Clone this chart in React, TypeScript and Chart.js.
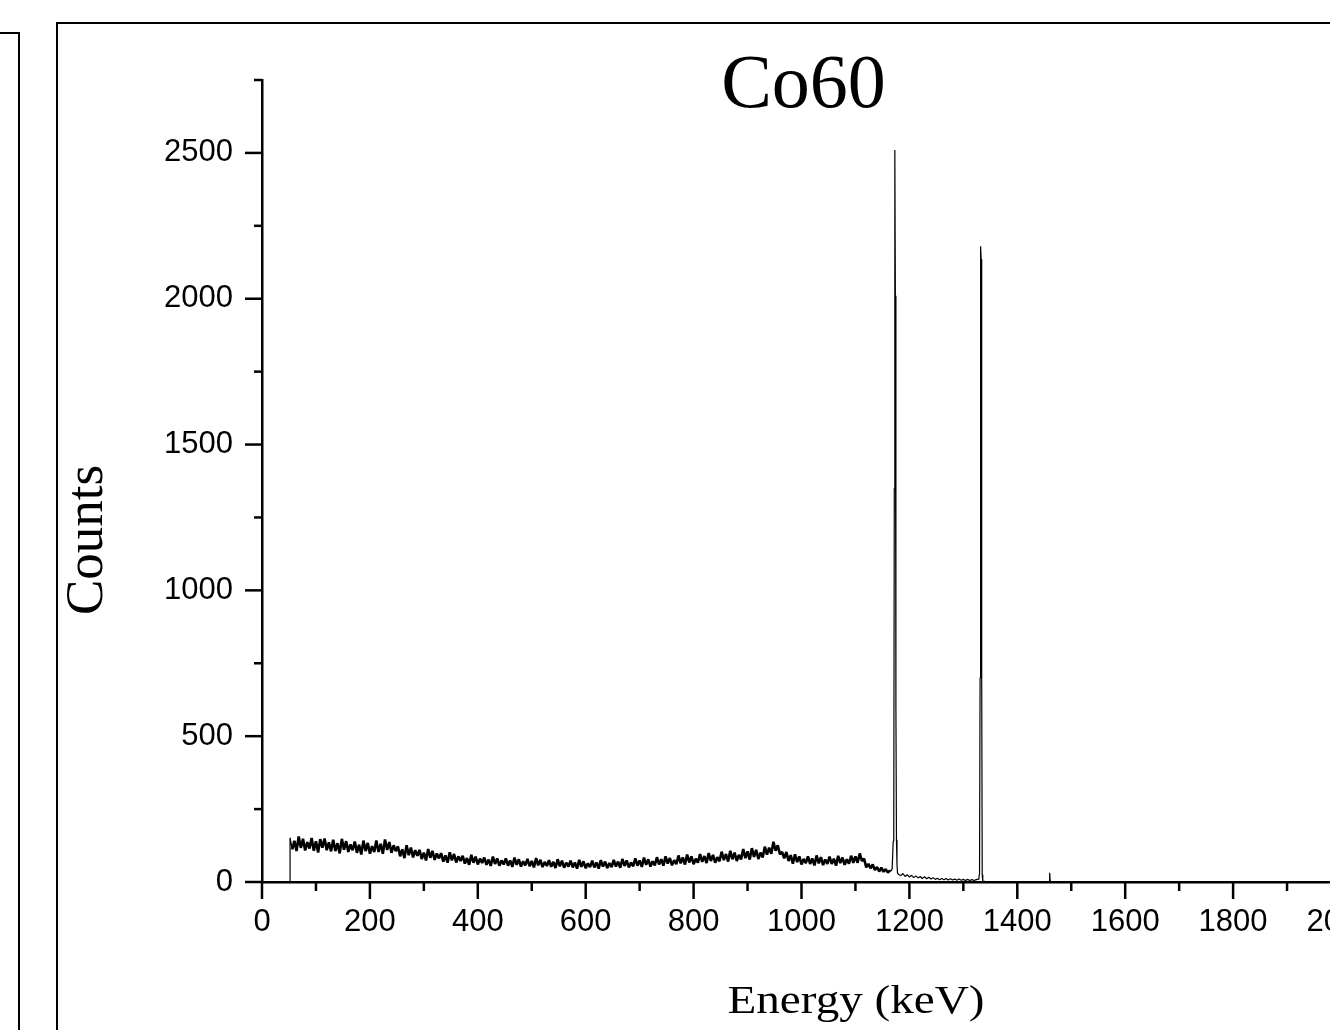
import React, { useEffect, useRef } from "react";
import { Chart, registerables } from "chart.js";

Chart.register(...registerables);

const TITLE = "Co60";
const X_LABEL = "Energy (keV)";
const Y_LABEL = "Counts";

const X_TICKS = [0, 200, 400, 600, 800, 1000, 1200, 1400, 1600, 1800, 2000];
const X_MINOR = [100, 300, 500, 700, 900, 1100, 1300, 1500, 1700, 1900];
const Y_TICKS = [0, 500, 1000, 1500, 2000, 2500];
const Y_MINOR = [250, 750, 1250, 1750, 2250, 2750];

// rising edge at detector threshold
const leadEnergy = [52];
const leadCounts = [0];

// continuum channels (4 keV bins starting at 52 keV)
const CONT_START_KEV = 52;
const CONT_STEP_KEV = 4;
const continuumCounts = [
  152, 112, 141, 106, 156, 117, 148, 108, 137, 115,
  151, 107, 140, 101, 147, 118, 149, 109, 136, 105,
  145, 106, 133, 98, 148, 111, 140, 103, 129, 109,
  139, 100, 128, 94, 142, 106, 134, 97, 123, 103,
  142, 103, 131, 97, 146, 110, 137, 100, 126, 106,
  122, 88, 112, 82, 126, 92, 118, 84, 109, 90,
  110, 79, 101, 74, 113, 83, 107, 76, 98, 81,
  99, 70, 91, 66, 102, 74, 96, 67, 88, 72,
  90, 63, 82, 59, 93, 66, 87, 60, 80, 65,
  84, 59, 77, 55, 87, 62, 81, 56, 74, 60,
  81, 56, 74, 52, 84, 59, 78, 53, 71, 57,
  79, 54, 72, 50, 82, 57, 76, 51, 69, 55,
  75, 52, 69, 48, 78, 54, 73, 49, 66, 53,
  73, 50, 67, 46, 76, 52, 71, 47, 64, 51,
  73, 50, 67, 46, 75, 53, 70, 48, 65, 51,
  76, 53, 70, 49, 79, 55, 74, 50, 67, 54,
  81, 56, 74, 52, 84, 59, 78, 53, 71, 57,
  85, 60, 78, 56, 88, 63, 82, 57, 75, 61,
  91, 64, 84, 60, 94, 67, 88, 61, 80, 66,
  96, 69, 89, 65, 99, 72, 93, 66, 85, 71,
  104, 75, 96, 70, 107, 78, 101, 72, 93, 77,
  113, 82, 105, 77, 116, 86, 110, 79, 101, 84,
  121, 94, 118, 97, 138, 107, 126, 95, 103, 81,
  103, 72, 92, 63, 95, 68, 88, 60, 79, 65,
  88, 62, 81, 57, 91, 64, 85, 58, 77, 62,
  87, 62, 80, 56, 90, 65, 84, 59, 78, 63,
  90, 66, 88, 66, 98, 72, 80, 50, 62, 47,
  60, 41, 51, 36, 49, 35, 44, 32, 40,
];

// 1173 keV photopeak
const peak1Energy = [1166, 1168, 1170, 1171, 1172, 1173, 1174, 1175, 1176, 1177, 1178, 1180];
const peak1Counts = [38, 45, 140, 150, 1350, 2510, 2010, 600, 145, 60, 30, 26];

// region between the two photopeaks (4 keV bins from 1184 keV)
const TAIL_START_KEV = 1184;
const TAIL_STEP_KEV = 4;
const tailCounts = [
  22, 29, 19, 25, 17, 23, 15, 21, 14, 19,
  12, 18, 11, 16, 10, 15, 9, 13, 8, 12,
  8, 12, 7, 11, 7, 10, 6, 10, 6, 9,
  5, 9, 5, 8, 5, 8, 10,
];

// 1332 keV photopeak
const peak2Energy = [1329, 1330, 1331, 1332, 1333, 1334, 1335, 1336];
const peak2Counts = [20, 28, 700, 2180, 2135, 710, 25, 3];

// above 1336 keV (incl. small 1460 keV line)
const highEnergy = [1340, 1400, 1456, 1459, 1460, 1461, 1464, 1600, 2000];
const highCounts = [2, 1, 0, 2, 32, 3, 0, 0, 0];

function buildPoints() {
  const pts: { x: number; y: number }[] = [];
  leadEnergy.forEach((e, i) => pts.push({ x: e, y: leadCounts[i] }));
  continuumCounts.forEach((c, i) => pts.push({ x: CONT_START_KEV + i * CONT_STEP_KEV, y: c }));
  peak1Energy.forEach((e, i) => pts.push({ x: e, y: peak1Counts[i] }));
  tailCounts.forEach((c, i) => pts.push({ x: TAIL_START_KEV + i * TAIL_STEP_KEV, y: c }));
  peak2Energy.forEach((e, i) => pts.push({ x: e, y: peak2Counts[i] }));
  highEnergy.forEach((e, i) => pts.push({ x: e, y: highCounts[i] }));
  return pts;
}

const tickPlugin = {
  id: "originTicks",
  afterDraw(chart: any) {
    const { ctx } = chart;
    const xs = chart.scales.x;
    const ys = chart.scales.y;
    const area = chart.chartArea;
    ctx.save();
    ctx.strokeStyle = "#000";
    ctx.lineWidth = 2.5;
    ctx.lineCap = "butt";
    const drawX = (v: number, len: number) => {
      const px = xs.getPixelForValue(v);
      ctx.beginPath();
      ctx.moveTo(px, area.bottom);
      ctx.lineTo(px, area.bottom + len);
      ctx.stroke();
    };
    const drawY = (v: number, len: number) => {
      const py = ys.getPixelForValue(v);
      ctx.beginPath();
      ctx.moveTo(area.left - len, py);
      ctx.lineTo(area.left, py);
      ctx.stroke();
    };
    X_TICKS.forEach((v) => drawX(v, 17));
    X_MINOR.forEach((v) => drawX(v, 9));
    Y_TICKS.forEach((v) => drawY(v, 17));
    Y_MINOR.forEach((v) => drawY(v, 8));
    ctx.restore();
  },
};

const textPlugin = {
  id: "figureTexts",
  afterDraw(chart: any) {
    const { ctx, chartArea } = chart;
    ctx.save();
    ctx.fillStyle = "#000";
    ctx.textBaseline = "alphabetic";
    ctx.textAlign = "center";

    ctx.font = '76px "Liberation Serif", "Times New Roman", serif';
    ctx.fillText(TITLE, (chartArea.left + chartArea.right) / 2 + 2, 107);

    ctx.save();
    ctx.translate(102, 540);
    ctx.rotate(-Math.PI / 2);
    ctx.font = '53px "Liberation Serif", "Times New Roman", serif';
    ctx.fillText(Y_LABEL, 0, 0);
    ctx.restore();

    ctx.save();
    ctx.translate(856, 1013);
    ctx.scale(1.15, 1);
    ctx.font = '41px "Liberation Serif", "Times New Roman", serif';
    ctx.fillText(X_LABEL, 0, 0);
    ctx.restore();

    ctx.restore();
  },
};

export default function App() {
  const ref = useRef<HTMLCanvasElement>(null);

  useEffect(() => {
    if (!ref.current) return;
    const tickFont = { family: '"Liberation Sans", Arial, sans-serif', size: 31, lineHeight: 1.2 };
    const chart = new Chart(ref.current, {
      type: "line",
      data: {
        datasets: [
          {
            data: buildPoints(),
            borderColor: "#000",
            borderWidth: 1.2,
            pointRadius: 0,
            tension: 0,
            fill: false,
            borderJoinStyle: "bevel",
            segment: {
              borderWidth: (c: any) =>
                c.p0.parsed.x > CONT_START_KEV && c.p1.parsed.x < peak1Energy[0] ? 2.6 : 1.2,
            },
          } as any,
        ],
      },
      options: {
        animation: false,
        responsive: false,
        devicePixelRatio: 1,
        events: [],
        layout: { padding: { left: 0, top: 80, right: 59, bottom: 0 } },
        plugins: {
          legend: { display: false },
          tooltip: { enabled: false },
          title: { display: false },
        },
        scales: {
          x: {
            type: "linear",
            min: 0,
            max: 2000,
            afterBuildTicks: (s: any) => {
              s.ticks = X_TICKS.map((v) => ({ value: v }));
            },
            afterFit: (s: any) => {
              s.height = 148;
            },
            grid: { display: false, drawTicks: false },
            border: { display: true, color: "#000", width: 2.5 },
            ticks: {
              color: "#000",
              font: tickFont,
              padding: 22,
              maxRotation: 0,
              minRotation: 0,
              autoSkip: false,
              callback: (v: any) => String(v),
            },
          },
          y: {
            type: "linear",
            min: 0,
            max: 2750,
            afterBuildTicks: (s: any) => {
              s.ticks = Y_TICKS.map((v) => ({ value: v }));
            },
            afterFit: (s: any) => {
              s.width = 262;
            },
            grid: { display: false, drawTicks: false },
            border: { display: true, color: "#000", width: 2.5 },
            ticks: {
              color: "#000",
              font: tickFont,
              padding: 29,
              autoSkip: false,
              callback: (v: any) => String(v),
            },
          },
        },
      } as any,
      plugins: [tickPlugin, textPlugin],
    });
    return () => chart.destroy();
  }, []);

  return (
    <div
      style={{
        position: "fixed",
        left: 0,
        top: 0,
        width: 1330,
        height: 1030,
        overflow: "hidden",
        background: "#fff",
      }}
    >
      <div
        style={{
          position: "absolute",
          left: -200,
          top: 32,
          width: 220,
          height: 2000,
          boxSizing: "border-box",
          border: "2px solid #000",
        }}
      />
      <div
        style={{
          position: "absolute",
          left: 56,
          top: 22,
          width: 2000,
          height: 2000,
          boxSizing: "border-box",
          border: "2px solid #000",
        }}
      />
      <canvas
        ref={ref}
        width={1400}
        height={1030}
        style={{ position: "absolute", left: 0, top: 0, width: 1400, height: 1030 }}
      />
    </div>
  );
}
